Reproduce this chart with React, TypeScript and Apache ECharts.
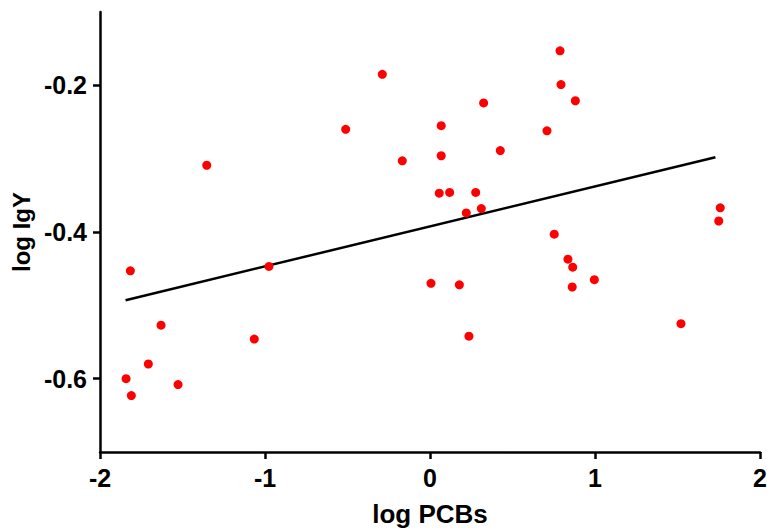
import React, { useEffect, useRef } from "react";
import * as echarts from "echarts";

const xValues = [
  0.788, -0.289, 0.794, 0.881, 0.325, -0.511, 0.068, 0.709, -1.353, -0.168,
  0.068, 0.426, 0.056, 0.119, 0.277, 0.22, 0.311, 0.753, 1.759, 1.75,
  -1.816, -0.976, 0.836, 0.865, 0.996, 0.006, 0.178, 0.862, -1.63, 1.521,
  -1.065, 0.236, -1.707, -1.842, -1.527, -1.81,
];
const yValues = [
  -0.153, -0.185, -0.199, -0.221, -0.224, -0.26, -0.255, -0.262, -0.309, -0.303,
  -0.296, -0.289, -0.347, -0.346, -0.346, -0.374, -0.368, -0.403, -0.367, -0.385,
  -0.453, -0.447, -0.437, -0.448, -0.465, -0.47, -0.472, -0.475, -0.527, -0.525,
  -0.546, -0.542, -0.58, -0.6, -0.608, -0.623,
];
const fitX = [-1.845, 1.73];
const fitY = [-0.493, -0.298];
const xTicks = [-2, -1, 0, 1, 2];
const yTicks = [-0.6, -0.4, -0.2];

const FONT = "Liberation Sans, Arial, sans-serif";

export default function App() {
  const ref = useRef<HTMLDivElement>(null);
  useEffect(() => {
    if (!ref.current) return;
    const chart = echarts.init(ref.current, null, { renderer: "svg" });
    const axisCommon = {
      axisLine: { show: true, onZero: false, lineStyle: { color: "#000", width: 2.5 } },
      axisTick: { show: true, length: 7, lineStyle: { color: "#000", width: 2.5 } },
      splitLine: { show: false },
      nameTextStyle: { fontFamily: FONT, fontWeight: "bold", color: "#000" },
    };
    const labelStyle = {
      margin: 13,
      fontFamily: FONT,
      fontWeight: "bold",
      fontSize: 25,
      color: "#000",
    };
    chart.setOption({
      animation: false,
      grid: { left: 100, right: 7, top: 12, bottom: 76, containLabel: false, outerBoundsMode: "none" },
      xAxis: {
        type: "value",
        min: -2,
        max: 2,
        interval: 1,
        name: "log PCBs",
        nameLocation: "middle",
        nameGap: 49,
        ...axisCommon,
        nameTextStyle: { ...axisCommon.nameTextStyle, fontSize: 26 },
        axisTick: { ...axisCommon.axisTick, customValues: xTicks },
        axisLabel: {
          ...labelStyle,
          customValues: xTicks,
          formatter: (v: number) => String(Math.round(v)),
        },
      },
      yAxis: {
        type: "value",
        min: -0.7,
        max: -0.1,
        name: "log IgY",
        nameLocation: "middle",
        nameGap: 59,
        ...axisCommon,
        nameTextStyle: { ...axisCommon.nameTextStyle, fontSize: 24 },
        axisTick: { ...axisCommon.axisTick, customValues: yTicks },
        axisLabel: {
          ...labelStyle,
          customValues: yTicks,
          formatter: (v: number) => v.toFixed(1),
        },
      },
      series: [
        {
          type: "line",
          data: fitX.map((x, i) => [x, fitY[i]]),
          showSymbol: false,
          symbol: "none",
          lineStyle: { color: "#000", width: 2.5 },
          z: 2,
        },
        {
          type: "scatter",
          data: xValues.map((x, i) => [x, yValues[i]]),
          symbol: "circle",
          symbolSize: 9,
          itemStyle: { color: "#ff0000", opacity: 1 },
          z: 3,
        },
      ],
    });
    return () => chart.dispose();
  }, []);
  return (
    <div
      ref={ref}
      style={{ position: "fixed", left: 0, top: 0, width: 767, height: 528, background: "#fff" }}
    />
  );
}
